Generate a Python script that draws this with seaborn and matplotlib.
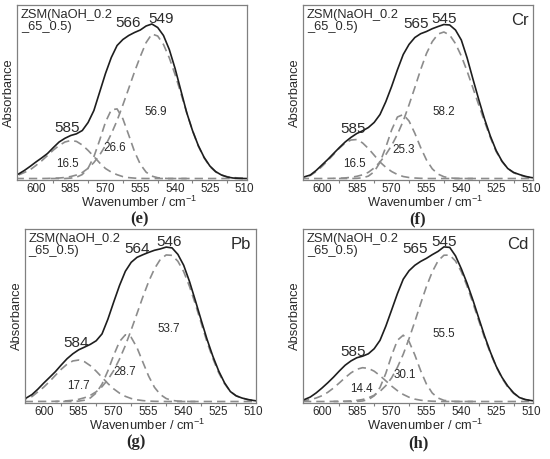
import pandas as pd
import seaborn as sns
import matplotlib.pyplot as plt

# wavenumber grids (cm-1); the middle component only spans the centre band
wn = [610, 607.5, 605, 602.5, 600, 597.5, 595, 592.5, 590, 587.5,
      585, 582.5, 580, 577.5, 575, 572.5, 570, 567.5, 565, 562.5,
      560, 557.5, 555, 552.5, 550, 547.5, 545, 542.5, 540, 537.5,
      535, 532.5, 530, 527.5, 525, 522.5, 520, 517.5, 515, 512.5,
      510, 507.5, 505]
wn_mid = [595, 592.5, 590, 587.5, 585, 582.5, 580, 577.5, 575, 572.5, 570,
          567.5, 565, 562.5, 560, 557.5, 555, 552.5, 550, 547.5, 545,
          542.5, 540, 537.5, 535]

# (e) ZSM
sum_e = [0.02, 0.045, 0.08, 0.121, 0.165, 0.206, 0.25, 0.309, 0.365, 0.402,
         0.43, 0.447, 0.48, 0.56, 0.68, 0.865, 1.05, 1.21, 1.33, 1.39,
         1.43, 1.46, 1.485, 1.525, 1.545, 1.51, 1.43, 1.29, 1.10, 0.88,
         0.66, 0.48, 0.33, 0.212, 0.125, 0.069, 0.035, 0.015, 0.005, 0.002,
         0.0, 0.0, 0.0]
c1_e = [0.02, 0.035, 0.06, 0.087, 0.13, 0.177, 0.23, 0.284, 0.33, 0.365,
        0.38, 0.371, 0.335, 0.281, 0.22, 0.156, 0.10, 0.064, 0.038, 0.019,
        0.009, 0.004, 0.001, 0, 0, 0, 0, 0, 0, 0,
        0, 0, 0, 0, 0, 0, 0, 0, 0, 0,
        0, 0, 0]
c2_e = [0, 0, 0, 0, 0.004, 0.013, 0.04, 0.103, 0.218, 0.384, 0.564, 0.687,
        0.696, 0.597, 0.436, 0.27, 0.143, 0.064, 0.024, 0.008, 0.002,
        0, 0, 0, 0]
c3_e = [0, 0, 0, 0, 0, 0, 0.001, 0.003, 0.005, 0.01,
        0.02, 0.035, 0.06, 0.102, 0.16, 0.236, 0.33, 0.446, 0.58, 0.736,
        0.90, 1.066, 1.22, 1.359, 1.445, 1.425, 1.34, 1.207, 1.04, 0.852,
        0.66, 0.48, 0.325, 0.207, 0.12, 0.066, 0.035, 0.018, 0.01, 0.005,
        0.002, 0.001, 0]

# (f) Cr
sum_f = [0.005, 0.017, 0.035, 0.08, 0.135, 0.19, 0.25, 0.309, 0.365, 0.411,
         0.45, 0.477, 0.51, 0.561, 0.64, 0.768, 0.92, 1.087, 1.24, 1.341,
         1.41, 1.448, 1.47, 1.498, 1.52, 1.54, 1.535, 1.485, 1.385, 1.206,
         0.995, 0.79, 0.595, 0.424, 0.28, 0.174, 0.10, 0.061, 0.04, 0.022,
         0.01, 0.003, 0.0]
c1_f = [0.005, 0.015, 0.03, 0.069, 0.12, 0.178, 0.24, 0.303, 0.355, 0.385,
        0.39, 0.356, 0.30, 0.233, 0.165, 0.112, 0.07, 0.04, 0.02, 0.01,
        0.005, 0.002, 0, 0, 0, 0, 0, 0, 0, 0,
        0, 0, 0, 0, 0, 0, 0, 0, 0, 0,
        0, 0, 0]
c2_f = [0, 0, 0, 0, 0.002, 0.007, 0.024, 0.068, 0.162, 0.313, 0.485, 0.615,
        0.64, 0.575, 0.452, 0.31, 0.186, 0.097, 0.044, 0.018, 0.006,
        0.002, 0, 0, 0]
c3_f = [0, 0, 0, 0, 0, 0.001, 0.002, 0.003, 0.006, 0.012,
        0.022, 0.037, 0.062, 0.106, 0.165, 0.239, 0.33, 0.442, 0.575, 0.737,
        0.91, 1.089, 1.25, 1.369, 1.445, 1.465, 1.435, 1.349, 1.225, 1.073,
        0.905, 0.736, 0.57, 0.41, 0.27, 0.17, 0.10, 0.058, 0.035, 0.019,
        0.01, 0.006, 0.003]

# (g) Pb
sum_g = [0.01, 0.035, 0.07, 0.124, 0.185, 0.242, 0.30, 0.367, 0.43, 0.48,
         0.52, 0.547, 0.575, 0.611, 0.68, 0.827, 1.0, 1.167, 1.31, 1.40,
         1.45, 1.476, 1.50, 1.521, 1.535, 1.553, 1.545, 1.48, 1.37, 1.206,
         1.015, 0.818, 0.626, 0.455, 0.307, 0.188, 0.10, 0.057, 0.035, 0.02,
         0.01, 0.003, 0.0]
c1_g = [0.01, 0.028, 0.05, 0.097, 0.144, 0.201, 0.263, 0.324, 0.375, 0.408,
        0.417, 0.40, 0.36, 0.305, 0.243, 0.181, 0.127, 0.084, 0.052, 0.03,
        0.017, 0.009, 0.004, 0.002, 0.001, 0, 0, 0, 0, 0,
        0, 0, 0, 0, 0, 0, 0, 0, 0, 0,
        0, 0, 0]
c2_g = [0, 0, 0, 0, 0.004, 0.013, 0.036, 0.086, 0.175, 0.308, 0.465, 0.603,
        0.671, 0.645, 0.541, 0.396, 0.254, 0.142, 0.07, 0.03, 0.011,
        0.004, 0.001, 0, 0]
c3_g = [0, 0, 0, 0.001, 0.001, 0.001, 0.002, 0.004, 0.007, 0.012,
        0.022, 0.038, 0.062, 0.098, 0.149, 0.22, 0.311, 0.427, 0.563, 0.72,
        0.885, 1.052, 1.207, 1.336, 1.43, 1.474, 1.47, 1.411, 1.306, 1.157,
        0.98, 0.789, 0.60, 0.433, 0.29, 0.18, 0.10, 0.057, 0.035, 0.019,
        0.01, 0.006, 0.003]

# (h) Cd
sum_h = [0.005, 0.02, 0.045, 0.086, 0.135, 0.188, 0.245, 0.307, 0.365, 0.408,
         0.44, 0.456, 0.48, 0.531, 0.615, 0.757, 0.92, 1.085, 1.23, 1.315,
         1.37, 1.409, 1.44, 1.477, 1.51, 1.555, 1.55, 1.465, 1.335, 1.187,
         1.02, 0.839, 0.66, 0.498, 0.355, 0.243, 0.155, 0.087, 0.04, 0.02,
         0.01, 0.003, 0.0]
c1_h = [0.005, 0.01, 0.019, 0.035, 0.058, 0.092, 0.136, 0.187, 0.24, 0.288,
        0.324, 0.34, 0.333, 0.305, 0.26, 0.208, 0.155, 0.109, 0.071, 0.043,
        0.024, 0.013, 0.006, 0.003, 0.001, 0, 0, 0, 0, 0,
        0, 0, 0, 0, 0, 0, 0, 0, 0, 0,
        0, 0, 0]
c2_h = [0, 0, 0, 0, 0.001, 0.005, 0.019, 0.057, 0.141, 0.283, 0.463, 0.616,
        0.667, 0.604, 0.468, 0.31, 0.175, 0.085, 0.035, 0.012, 0.004,
        0.001, 0, 0, 0]
c3_h = [0, 0, 0, 0, 0, 0, 0.001, 0.002, 0.003, 0.006,
        0.011, 0.02, 0.037, 0.063, 0.102, 0.159, 0.238, 0.344, 0.475, 0.632,
        0.804, 0.985, 1.157, 1.304, 1.415, 1.471, 1.473, 1.413, 1.306, 1.159,
        0.99, 0.814, 0.641, 0.487, 0.35, 0.236, 0.145, 0.082, 0.04, 0.019,
        0.01, 0.005, 0.003]

sample = "ZSM(NaOH_0.2\n_65_0.5)"
letters = ["(e)", "(f)", "(g)", "(h)"]
metals = ["", "Cr", "Pb", "Cd"]
peaks = [["585", "566", "549"], ["585", "565", "545"],
         ["584", "564", "546"], ["585", "565", "545"]]
areas = [["16.5", "26.6", "56.9"], ["16.5", "25.3", "58.2"],
         ["17.7", "28.7", "53.7"], ["14.4", "30.1", "55.5"]]
ticks = [600, 585, 570, 555, 540, 525, 510]

# layout (figure fractions / label anchors in data units)
boxes = [[0.0315, 0.6078, 0.4176, 0.3813], [0.5515, 0.6078, 0.4182, 0.3813],
         [0.0455, 0.1220, 0.4200, 0.3791], [0.5515, 0.1220, 0.4182, 0.3791]]
letter_xy = [(0.2545, 0.523), (0.760, 0.522), (0.247, 0.038), (0.760, 0.034)]
peak_xy = [[(586.4, 0.51), (560.2, 1.56), (546.1, 1.60)],
           [(586.4, 0.50), (559.5, 1.55), (547.4, 1.60)],
           [(586.2, 0.59), (560.1, 1.53), (546.3, 1.60)],
           [(586.4, 0.50), (559.9, 1.53), (547.4, 1.60)]]
area_xy = [[(586.4, 0.145), (565.9, 0.305), (548.3, 0.668)],
           [(586.1, 0.147), (564.9, 0.285), (547.7, 0.668)],
           [(584.9, 0.158), (565.1, 0.292), (546.6, 0.725)],
           [(582.8, 0.123), (564.5, 0.265), (547.7, 0.675)]]

spectra = [(sum_e, c1_e, c2_e, c3_e), (sum_f, c1_f, c2_f, c3_f),
           (sum_g, c1_g, c2_g, c3_g), (sum_h, c1_h, c2_h, c3_h)]

sns.set_style("white")
plt.rcParams["font.family"] = ["Liberation Sans", "DejaVu Sans"]
plt.rcParams["mathtext.fontset"] = "custom"
plt.rcParams["mathtext.rm"] = "Liberation Sans"
plt.rcParams["mathtext.default"] = "regular"

palette = {"c1": "#8c8c8c", "c2": "#8c8c8c", "c3": "#8c8c8c", "sum": "#1e1e1e"}
dashes = {"c1": (5, 3), "c2": (5, 3), "c3": (5, 3), "sum": ""}
order = ["c1", "c2", "c3", "sum"]

fig = plt.figure(figsize=(5.5, 4.59), dpi=100)

for i, (total, c1, c2, c3) in enumerate(spectra):
    ax = fig.add_axes(boxes[i])
    rows = []
    for name, xs, ys in (("c1", wn, c1), ("c2", wn_mid, c2),
                         ("c3", wn, c3), ("sum", wn, total)):
        rows += [{"wn": x, "a": y, "curve": name} for x, y in zip(xs, ys)]
    df = pd.DataFrame(rows)
    sns.lineplot(data=df, x="wn", y="a", hue="curve", style="curve",
                 hue_order=order, style_order=order,
                 palette=palette, dashes=dashes, linewidth=1.2,
                 estimator=None, legend=False, ax=ax)

    ax.set_xlim(608, 509)
    ax.set_ylim(-0.015, 1.735)
    ax.set_xticks(ticks)
    ax.set_xticks([592.5, 577.5, 562.5, 547.5, 532.5, 517.5], minor=True)
    ax.set_yticks([])
    ax.tick_params(axis="x", which="major", length=0, pad=2,
                   labelsize=8.4, labelcolor="#2a2a2a")
    ax.tick_params(axis="x", which="minor", bottom=True, length=2.5,
                   width=0.8, color="#808080", direction="out")
    for s in ax.spines.values():
        s.set_color("#808080")
        s.set_linewidth(0.9)

    ax.set_xlabel("Wavenumber / cm$^{-1}$", fontsize=9.3, color="#2a2a2a")
    ax.xaxis.set_label_coords(0.53, -0.085)
    ax.set_ylabel("Absorbance", fontsize=9.3, color="#2a2a2a", labelpad=1.5)

    ax.text(0.015, 0.975, sample, transform=ax.transAxes, ha="left",
            va="top", fontsize=9.3, linespacing=0.95, color="#2a2a2a")
    if metals[i]:
        ax.text(0.98, 0.91, metals[i], transform=ax.transAxes, ha="right",
                va="center", fontsize=12, color="#2a2a2a")
    for s, (x, y) in zip(peaks[i], peak_xy[i]):
        ax.text(x, y, s, ha="center", va="center", fontsize=11,
                color="#2a2a2a")
    for s, (x, y) in zip(areas[i], area_xy[i]):
        ax.text(x, y, s, ha="center", va="center", fontsize=8.4,
                color="#2a2a2a")

    fig.text(letter_xy[i][0], letter_xy[i][1], letters[i], ha="center",
             va="center", fontsize=12, weight="bold",
             family=["Liberation Serif", "DejaVu Serif"])

fig.savefig("out.png", dpi=100)
